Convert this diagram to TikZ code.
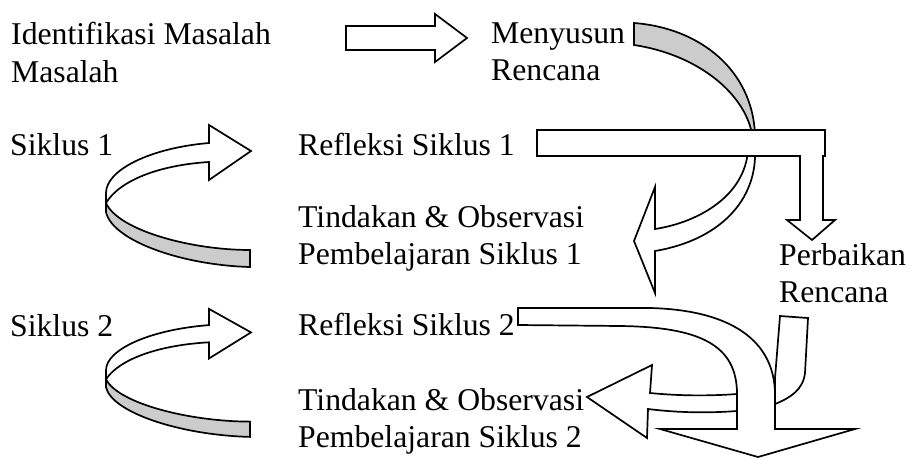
\documentclass[tikz,border=0pt]{standalone}
\usepackage{fontspec}
\setmainfont{Liberation Serif}
\definecolor{bandgray}{RGB}{204,204,204}
\tikzset{
  outline/.style={draw=black, line width=1.7pt, fill=white, line join=miter},
  band/.style={draw=black, line width=1.7pt, fill=bandgray, line join=miter},
  lbl/.style={anchor=base west, inner sep=0pt, font=\fontsize{31.7}{38}\selectfont}
}
\begin{document}
\begin{tikzpicture}[x=1pt,y=-1pt]
\useasboundingbox (0,0) rectangle (909,458);

% straight arrow Identifikasi -> Menyusun
\draw[outline] (346,26) -- (435,26) -- (435,14) -- (467,38) -- (435,62) -- (435,50) -- (346,50) -- cycle;

% gray crescent from Menyusun Rencana
\draw[band] (634,23) .. controls (700,28) and (752,70) .. (755,134)
  -- (752,134) .. controls (745,95) and (700,55) .. (634,45) -- cycle;

% white curved band to Tindakan 1
\draw[outline] (748,150) .. controls (745,195) and (700,222) .. (655,229)
  -- (655,187) -- (634,241) -- (655,293) -- (655,251)
  .. controls (720,240) and (757,200) .. (755,150) -- cycle;

% Refleksi Siklus 1 bar with down arrow
\draw[outline] (537,130) -- (825,130) -- (825,156) -- (823,156) -- (823,220)
  -- (835,220) -- (812,240) -- (787,220) -- (800,220) -- (800,156) -- (537,156) -- cycle;

% Siklus 1 loop
\draw[outline] (209,143) .. controls (150,148) and (106,170) .. (106,193)
  -- (106,203) .. controls (120,180) and (160,165) .. (209,162)
  -- (209,180) -- (251,151) -- (209,125) -- cycle;
\draw[band] (106,203) .. controls (118,230) and (190,250) .. (250,250)
  -- (250,267) .. controls (180,265) and (112,240) .. (106,212) -- cycle;

% Siklus 2 loop
\draw[outline] (209,325.1) .. controls (150,329.6) and (106,349.5) .. (106,370.2)
  -- (106,379.2) .. controls (120,358.5) and (160,345) .. (209,342.3)
  -- (209,358.5) -- (251,332.4) -- (209,308.9) -- cycle;
\draw[band] (106,379.2) .. controls (118,403.5) and (190,421.6) .. (250,421.6)
  -- (250,436.9) .. controls (180,435.1) and (112,412.5) .. (106,387.3) -- cycle;

% Perbaikan Rencana tail
\draw[outline] (780,316) -- (808,318) -- (805,373) .. controls (803,390) and (790,398) .. (775,404)
  -- (775,378) -- cycle;

% bent arrow from Refleksi Siklus 2
\draw[outline] (518,308) -- (650,308) .. controls (730,310) and (775,340) .. (775,395)
  -- (775,429) -- (855,429) -- (758,457) -- (660,429) -- (737,429) -- (737,394)
  .. controls (737,345) and (700,327) .. (620,326) -- (518,325) -- cycle;

% left arrow to Tindakan 2
\draw[outline] (737,394) .. controls (710,396) and (680,396) .. (650,393)
  -- (652,365) -- (587,397) -- (647,438) -- (648,409)
  .. controls (680,413) and (710,413) .. (737,411) -- cycle;

% texts
\node[lbl] (t1) at (11,44) {Identifikasi Masalah};
\node[lbl] (t2) at (11,82) {Masalah};
\node[lbl] (t3) at (491,43) {Menyusun};
\node[lbl] (t4) at (491,80) {Rencana};
\node[lbl] (t5) at (10,155) {Siklus 1};
\node[lbl] (t6) at (298,155) {Refleksi Siklus 1};
\node[lbl] (t7) at (298,227) {Tindakan \& Observasi};
\node[lbl] (t8) at (298,264) {Pembelajaran Siklus 1};
\node[lbl] (t9) at (779,265) {Perbaikan};
\node[lbl] (t10) at (779,302) {Rencana};
\node[lbl] (t11) at (10,336) {Siklus 2};
\node[lbl] (t12) at (298,335) {Refleksi Siklus 2};
\node[lbl] (t13) at (298,410) {Tindakan \& Observasi};
\node[lbl] (t14) at (298,447) {Pembelajaran Siklus 2};
\end{tikzpicture}
\end{document}
